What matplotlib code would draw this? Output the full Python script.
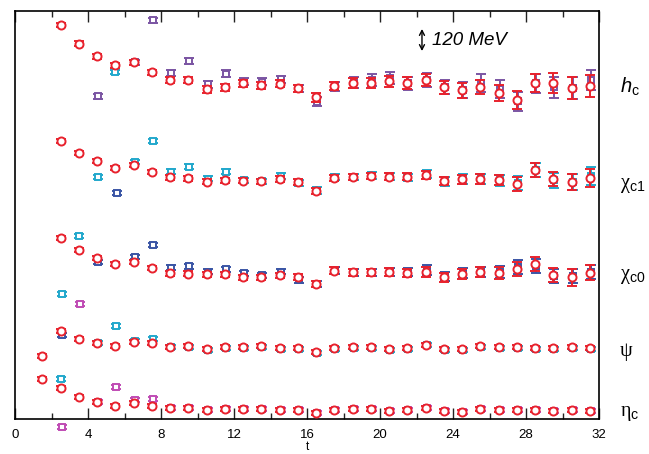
import numpy as np
import matplotlib
matplotlib.use("Agg")
import matplotlib.pyplot as plt
from matplotlib.transforms import blended_transform_factory

plt.rcParams['font.family'] = ['Liberation Sans', 'DejaVu Sans']
plt.rcParams['mathtext.fontset'] = 'custom'
plt.rcParams['mathtext.rm'] = 'Liberation Sans'
plt.rcParams['mathtext.it'] = 'Liberation Sans:italic'

N = None
# time slices (effective mass at t+1/2)
t = np.arange(1.5, 32.0, 1.0)

# values (vertical position, arbitrary units, larger = lower)
hc_red = [N, 25, 43.7, 56, 65, 62.3, 72, 80, 79.7, 89.3, 87.3, 83, 85.3, 83.7, 88, 97.3,
          86.3, 82.7, 82.7, 81, 83.3, 80, 87.3, 90, 87, 92.7, 100, 83, 83, 88, 86]
hc_red_err = [N, 2.3, 2.3, 2.5, 2.5, 2.5, 2.5, 3, 3, 3.5, 3.5, 3.5, 3.5, 3.5, 3.5, 4.5,
              4, 5, 5, 5.5, 6, 6, 6.5, 7.5, 7, 8, 9, 9, 10, 11, 11]
hc_sq = [N, N, N, 96.3, N, 62, 20, 72.7, 61, 84.3, 73.7, 81.7, 81.7, 79, 88, 101.7,
         86, 82, 80, 77.7, 83, 80, 87, 90, 83.3, 89.3, 101, 83, 87.3, 88, 80]
hc_sq_err = [N, N, N, 2.3, N, 2.5, 2.5, 3, 3, 3.5, 3.5, 3.5, 3.5, 3.5, 3.5, 4.5,
             4.5, 5.5, 6, 6, 6.5, 7, 7, 8, 9, 9, 9.5, 9.5, 10.5, 11, 9.7]

chic1_red = [N, 140.7, 153, 161.3, 168, 165.3, 172, 177, 178.3, 181.7, 180.3, 180.7, 181.3, 179.3, 182.3, 190.7,
             177.7, 177.3, 176, 176.7, 176.7, 175, 180.7, 179, 179, 180.3, 183.7, 170, 179.3, 181.7, 177.7]
chic1_red_err = [N, 2, 2, 2, 2, 2, 2, 2.5, 2.5, 2.5, 2.5, 2.5, 2.5, 3, 3, 3,
                 3, 3, 3, 3.5, 3.5, 4, 4, 4.5, 5, 5, 7, 7, 7, 8, 9]
chic1_sq = [N, N, N, 176.7, N, 162.3, 140.7, 171.7, 166.7, 178.7, 171.7, 180, 181, 176, 183.3, 190,
            177, 177, 175, 176, 177, 174, 181, 179, 179, 180, 183, 170, 180, 182, 176]
chic1_sq_err = [N, N, N, 2, N, 2, 2, 2.5, 2.5, 2.5, 2.5, 2.5, 2.5, 3, 3, 3.5,
                3, 3, 3.5, 3.5, 3.5, 4, 4.5, 5, 5, 5.5, 7, 7, 7.5, 8, 9]

chic0_red = [N, 238.3, 249.7, 257.7, 264, 261.7, 268.3, 273, 273.7, 274, 274.3, 277, 277, 275.3, 277, 283.7,
             270.7, 272.3, 272.3, 272.3, 272.7, 272.3, 277, 274.3, 272, 273.3, 269.3, 264.3, 274.7, 277.3, 272.7]
chic0_red_err = [N, 2, 2, 2, 2, 2, 2, 2.5, 2.5, 2.5, 2.5, 2.5, 2.5, 2.5, 3, 3,
                 3.5, 3.5, 3.5, 4, 4, 5, 4.5, 5, 5, 6, 7, 7, 7, 8.5, 7.5]
chic0_sq = [N, N, N, 262.3, N, 256.7, 244.7, 267.7, 266, 271.7, 269, 273.3, 275, 271.7, 280, 283.7,
            270.7, 272, 272, 272, 272, 270, 276, 273.3, 271.7, 272, 266.7, 266, 276, 276, 271.7]
chic0_sq_err = [N, N, N, 2, N, 2, 2, 2.5, 2.5, 2.5, 2.5, 2.5, 2.5, 2.5, 3, 3,
                3.5, 3.5, 3.5, 4, 4, 5, 4.5, 5, 5, 6, 7, 7, 7, 7, 7]

psi_red = [356, 330.7, 338.7, 342.7, 346, 341.7, 343.3, 346.7, 346.3, 348.7, 347.3, 346.7, 346, 347.7, 347.7, 351.7,
           348.3, 347, 346.7, 349, 347.7, 344.7, 348.7, 349, 346, 347.3, 347, 347.7, 347.7, 347.3, 347.7]
psi_red_err = [2, 2, 2, 2, 2, 2, 2, 2, 2, 2, 2, 2, 2, 2, 2, 2,
               2, 2, 2, 2, 2, 2, 2, 2, 2, 2, 2, 2, 2, 2, 2]
psi_sq = [N, 294.3, N, 343.3, 326, 341, 339.3, 347, 347, 349.5, 348, 347.5, 346.5, 348.5, 348.5, 352.5,
          349, 347.5, 347.5, 349.5, 348.5, 345, 349.5, 349.5, 346.5, 348, 347.5, 348.5, 348.5, 348, 348.5]
psi_sq_err = [N, 2, N, 2, 2, 2, 2, 2, 2, 2, 2, 2, 2, 2, 2, 2,
              2, 2, 2, 2, 2, 2, 2, 2, 2, 2, 2, 2, 2, 2, 2]

etac_red = [378.7, 388.3, 397.3, 402, 406, 403.3, 406, 407.7, 408, 410, 409.3, 409, 409, 410.3, 410.3, 413,
            410.3, 409.3, 409, 411.3, 410.3, 408, 411.3, 412, 409, 410.3, 409.7, 410.3, 411.3, 410, 411.3]
etac_red_err = [2, 2, 2, 2, 2, 2, 2, 2, 2, 2, 2, 2, 2, 2, 2, 2,
                2, 2, 2, 2, 2, 2, 2, 2, 2, 2, 2, 2, 2, 2, 2]
etac_sq = [N, 427, 304.3, 402, 387, 400.3, 399.3, 407.5, 407.5, 409.5, 409, 408.5, 409, 410, 410, 412.5,
           410, 409, 409, 411, 410, 408, 411, 411.5, 409, 410, 409.5, 410, 411, 410, 411]
etac_sq_err = [N, 2, 2, 2, 2, 2, 2, 2, 2, 2, 2, 2, 2, 2, 2, 2,
               2, 2, 2, 2, 2, 2, 2, 2, 2, 2, 2, 2, 2, 2, 2]

# isolated points of other operators
cyan_extra_t = [5.5, 3.5, 2.5]
cyan_extra_y = [72, 236, 379.3]
blue_extra_t = [5.6, 2.6]
blue_extra_y = [193, 335.3]

labels = [r'$h_{\mathrm{c}}$', 'χ$_{\mathrm{c1}}$', 'χ$_{\mathrm{c0}}$', 'ψ', 'η$_{\mathrm{c}}$']
label_y = [87, 185, 276, 351, 413]
xticks = [0, 4, 8, 12, 16, 20, 24, 28, 32]

RED = '#e8222d'
PURPLE = '#7b55a3'
CYAN = '#22a8cc'
BLUE = '#3a55a5'
MAGENTA = '#c04cb4'

fig = plt.figure(figsize=(6.49, 4.54), dpi=100)
ax = fig.add_axes([15/649, 1 - 419/454, 584/649, 408/454])


def arr(v):
    return np.array([np.nan if a is None else a for a in v], dtype=float)


def draw(x, y, e, color, marker, ms, z, dx=0.0):
    y = arr(y); e = arr(e)
    m = ~np.isnan(y)
    ax.errorbar(x[m] + dx, y[m], yerr=e[m], fmt=marker, ms=ms, mfc='white', mec=color,
                mew=1.4, ecolor=color, elinewidth=1.4, capsize=3.8, capthick=2.0,
                zorder=z, clip_on=False)


sq_series = [(hc_sq, hc_sq_err, PURPLE), (chic1_sq, chic1_sq_err, CYAN),
             (chic0_sq, chic0_sq_err, BLUE), (psi_sq, psi_sq_err, CYAN),
             (etac_sq, etac_sq_err, MAGENTA)]
for y, e, c in sq_series:
    draw(t, y, e, c, 's', 4.3, 2, dx=0.06)

ax.errorbar(cyan_extra_t, cyan_extra_y, yerr=[2]*len(cyan_extra_t), fmt='s', ms=4.3, mfc='white',
            mec=CYAN, mew=1.4, ecolor=CYAN, elinewidth=1.4, capsize=3.8, capthick=2.0, zorder=2)
ax.errorbar(blue_extra_t, blue_extra_y, yerr=[2]*len(blue_extra_t), fmt='s', ms=4.3, mfc='white',
            mec=BLUE, mew=1.4, ecolor=BLUE, elinewidth=1.4, capsize=3.8, capthick=2.0, zorder=2)

red_series = [(hc_red, hc_red_err), (chic1_red, chic1_red_err), (chic0_red, chic0_red_err),
              (psi_red, psi_red_err), (etac_red, etac_red_err)]
for y, e in red_series:
    draw(t, y, e, RED, 'o', 5.8, 3)

ax.set_xlim(0, 32)
ax.set_ylim(419, 11)
ax.set_yticks([])
ax.set_xticks(xticks)
ax.set_xticklabels([str(v) for v in xticks], fontsize=9.5)
ax.set_xticks(np.arange(2, 32, 4), minor=True)
ax.tick_params(axis='x', which='major', direction='in', length=8, width=1, top=True, pad=7, color='#222222')
ax.tick_params(axis='x', which='minor', direction='in', length=4, width=1, top=True, color='#222222')
for s in ax.spines.values():
    s.set_linewidth(1.2)
ax.set_xlabel('t', fontsize=8.5, labelpad=0)

# scale arrow
ax.annotate('', xy=(22.3, 29), xytext=(22.3, 51),
            arrowprops=dict(arrowstyle='<->,head_length=0.35,head_width=0.18', lw=1.0, color='black',
                            shrinkA=0, shrinkB=0))
ax.text(22.85, 40, '120 MeV', fontsize=13.5, style='italic', va='center', ha='left')

tr = blended_transform_factory(ax.transAxes, ax.transData)
for lab, yy in zip(labels, label_y):
    ax.text(1.036, yy, lab, transform=tr, fontsize=14.5, va='center', ha='left',
            family=['Liberation Serif', 'DejaVu Serif'])

fig.savefig('out.png', dpi=100)
